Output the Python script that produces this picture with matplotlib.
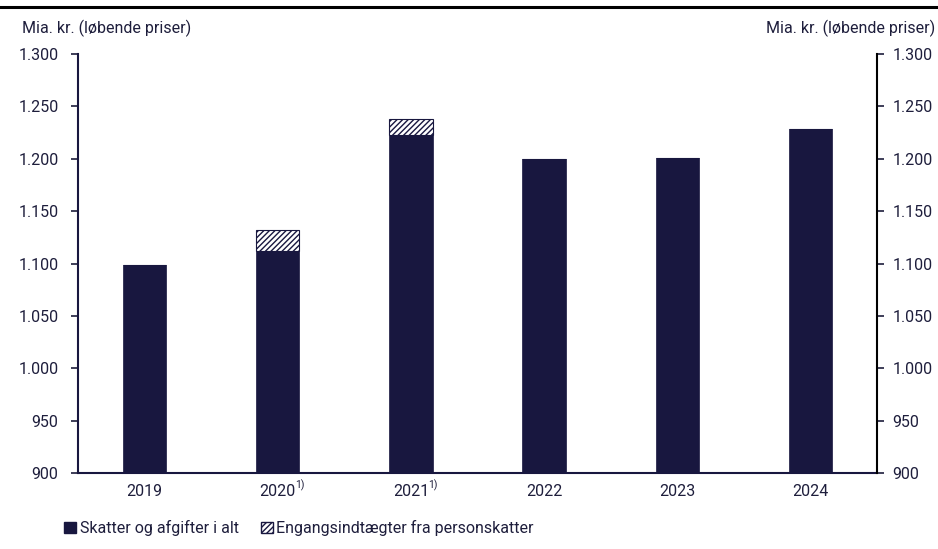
import numpy as np
import matplotlib.pyplot as plt
from matplotlib.patches import Patch

plt.rcParams['font.family'] = ['Roboto', 'DejaVu Sans']
plt.rcParams['hatch.color'] = '#18173f'
plt.rcParams['hatch.linewidth'] = 1.0

years = ['2019', '2020', '2021', '2022', '2023', '2024']
footnote = ['', '1)', '1)', '', '', '']
# Skatter og afgifter i alt (mia. kr.)
total_taxes = [1099, 1112, 1223, 1200, 1201, 1228]
# Engangsindtægter fra personskatter (mia. kr.)
one_off = [0, 20, 15, 0, 0, 0]

navy = '#18173f'
text_col = '#1e1e3c'
fs = 11.5

fig = plt.figure(figsize=(9.38, 5.49), dpi=100)
ax = fig.add_axes([78 / 938, 1 - 473 / 549, 799 / 938, 419 / 549])
x = np.arange(len(years))
width = 0.325

ax.bar(x, total_taxes, width, color=navy, edgecolor=navy, linewidth=0.5, zorder=2)
ax.bar(x, one_off, width, bottom=total_taxes, color='white', edgecolor=navy,
       linewidth=0.8, hatch='//////', zorder=2)

ax.set_xlim(-0.5, len(years) - 0.5)
ax.set_ylim(900, 1300)
yt = np.arange(900, 1301, 50)
ylabels = [f'{v:,}'.replace(',', '.') for v in yt]
ax.set_yticks(yt)
ax.set_yticklabels(ylabels)
ax.set_xticks(x)
ax.set_xticklabels(years)

ax2 = ax.twinx()
ax2.set_ylim(900, 1300)
ax2.set_yticks(yt)
ax2.set_yticklabels(ylabels)

for a in (ax, ax2):
    a.spines['top'].set_visible(False)
    a.tick_params(labelsize=fs, colors=text_col, length=5, width=1.2)
ax.spines['right'].set_visible(False)
ax.spines['left'].set_color(navy)
ax.spines['left'].set_linewidth(1.5)
ax.spines['bottom'].set_color(navy)
ax.spines['bottom'].set_linewidth(1.5)
ax2.spines['left'].set_visible(False)
ax2.spines['bottom'].set_visible(False)
ax2.spines['right'].set_color('black')
ax2.spines['right'].set_linewidth(1.5)
ax.tick_params(axis='x', length=0, pad=8)
ax.tick_params(axis='y', pad=9)
ax2.tick_params(axis='y', pad=6)

# footnote markers next to the year labels
for i, note in enumerate(footnote):
    if note:
        ax.annotate(note, xy=(i, 0), xycoords=('data', 'axes fraction'),
                    xytext=(12.5, -8.5), textcoords='offset points',
                    fontsize=7.5, color=text_col, ha='left', va='center')

fig.text(22 / 938, 1 - 28 / 549, 'Mia. kr. (løbende priser)', fontsize=fs,
         color=text_col, ha='left', va='center')
fig.text(935 / 938, 1 - 28 / 549, 'Mia. kr. (løbende priser)', fontsize=fs,
         color=text_col, ha='right', va='center')

# horizontal rule across the top
fig.add_artist(plt.Line2D([0, 1], [1 - 7 / 549, 1 - 7 / 549], color='black',
                          linewidth=2.2, transform=fig.transFigure))

handles = [Patch(facecolor=navy, edgecolor=navy),
           Patch(facecolor='white', edgecolor=navy, hatch='//////')]
fig.legend(handles, ['Skatter og afgifter i alt', 'Engangsindtægter fra personskatter'],
           loc='center left', bbox_to_anchor=(50 / 938, 1 - 528 / 549), ncol=2,
           frameon=False, fontsize=fs, handlelength=0.75, handleheight=0.75,
           handletextpad=0.2, columnspacing=1.4, labelcolor=text_col)

fig.savefig('out.png', dpi=100)
